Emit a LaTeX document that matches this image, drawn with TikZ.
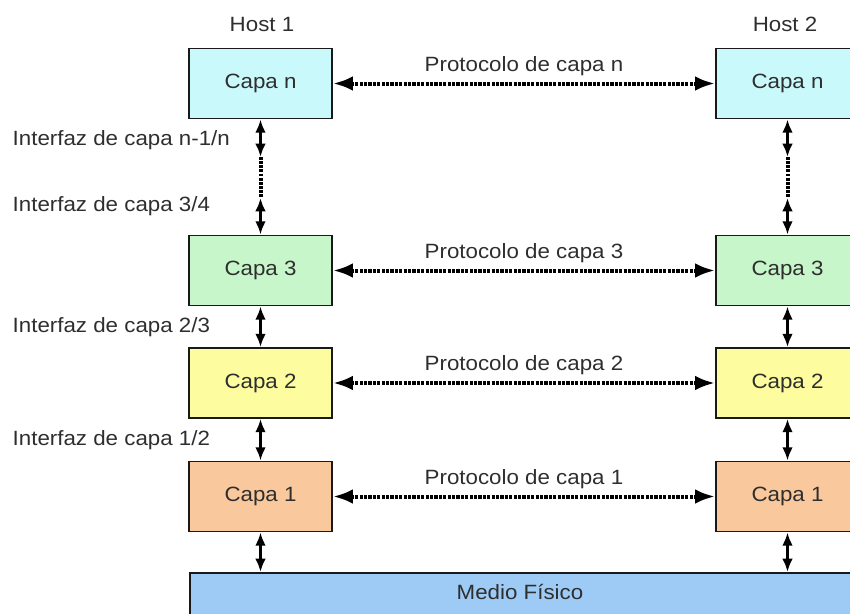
\documentclass[tikz,border=0pt]{standalone}
\usepackage{fontspec}
\setmainfont{Liberation Sans}[FakeStretch=1.08]
\usetikzlibrary{arrows.meta}
\definecolor{cN}{HTML}{CAF9FC}
\definecolor{c3}{HTML}{C8F6CB}
\definecolor{c2}{HTML}{FDFC9E}
\definecolor{c1}{HTML}{F9C99D}
\definecolor{cM}{HTML}{9DCBF6}
\definecolor{txt}{HTML}{2E2E2E}
\begin{document}
\begin{tikzpicture}[x=0.75pt,y=-0.75pt,
  every node/.style={font=\fontsize{15.5pt}{18pt}\selectfont, text=txt},
  layer/.style={draw=black!90, line width=1.3pt, minimum width=107.25pt, minimum height=52.5pt, inner sep=0pt},
  harrow/.style={{Latex[length=15pt,width=11pt]}-{Latex[length=15pt,width=11pt]}, line width=3pt, dash pattern=on 2.4pt off 0.9pt},
  varrow/.style={{Latex[length=10pt,width=8pt]}-{Latex[length=10pt,width=8pt]}, line width=2.4pt},
  vdot/.style={line width=3pt, dash pattern=on 2.2pt off 0.9pt},
  plabel/.style={above=1pt, midway},
  ilabel/.style={anchor=west}]
\useasboundingbox (0,0) rectangle (850,614);
\clip (0,0) rectangle (850,614);
% hosts
\node (h1) at (262,24) {Host 1};
\node (h2) at (785,24) {Host 2};
% left stack
\node[layer, fill=cN] (L4) at (260.5,83.5) {Capa n};
\node[layer, fill=c3] (L3) at (260.5,270.5) {Capa 3};
\node[layer, fill=c2] (L2) at (260.5,383) {Capa 2};
\node[layer, fill=c1] (L1) at (260.5,496.5) {Capa 1};
% right stack
\node[layer, fill=cN] (R4) at (787.5,83.5) {Capa n};
\node[layer, fill=c3] (R3) at (787.5,270.5) {Capa 3};
\node[layer, fill=c2] (R2) at (787.5,383) {Capa 2};
\node[layer, fill=c1] (R1) at (787.5,496.5) {Capa 1};
% medium
\node[draw=black!90, line width=1.3pt, fill=cM, anchor=north west, minimum width=525pt, minimum height=60pt, inner sep=0pt] (medio) at (189,572) {};
\node (mtext) at (520,592) {Medio Físico};
% protocols
\draw[harrow] (L4) -- (R4) node[plabel] {Protocolo de capa n};
\draw[harrow] (L3) -- (R3) node[plabel] {Protocolo de capa 3};
\draw[harrow] (L2) -- (R2) node[plabel] {Protocolo de capa 2};
\draw[harrow] (L1) -- (R1) node[plabel] {Protocolo de capa 1};
% interfaces n-1/n .. 3/4
\coordinate (la) at (260.5,157);
\coordinate (lb) at (260.5,198);
\coordinate (ra) at (787.5,157);
\coordinate (rb) at (787.5,198);
\draw[varrow] (L4.south) -- (la);
\draw[vdot] (la) -- (lb);
\draw[varrow] (lb) -- (L3.north);
\draw[varrow] (R4.south) -- (ra);
\draw[vdot] (ra) -- (rb);
\draw[varrow] (rb) -- (R3.north);
% other interfaces
\draw[varrow] (L3.south) -- (L2.north);
\draw[varrow] (L2.south) -- (L1.north);
\draw[varrow] (L1.south) -- (L1.south |- medio.north);
\draw[varrow] (R3.south) -- (R2.north);
\draw[varrow] (R2.south) -- (R1.north);
\draw[varrow] (R1.south) -- (R1.south |- medio.north);
% interface labels
\node[ilabel] (i4) at (8,140) {Interfaz de capa n-1/n};
\node[ilabel] (i3) at (8,206) {Interfaz de capa 3/4};
\node[ilabel] (i2) at (8,327) {Interfaz de capa 2/3};
\node[ilabel] (i1) at (8,440) {Interfaz de capa 1/2};
\end{tikzpicture}
\end{document}
